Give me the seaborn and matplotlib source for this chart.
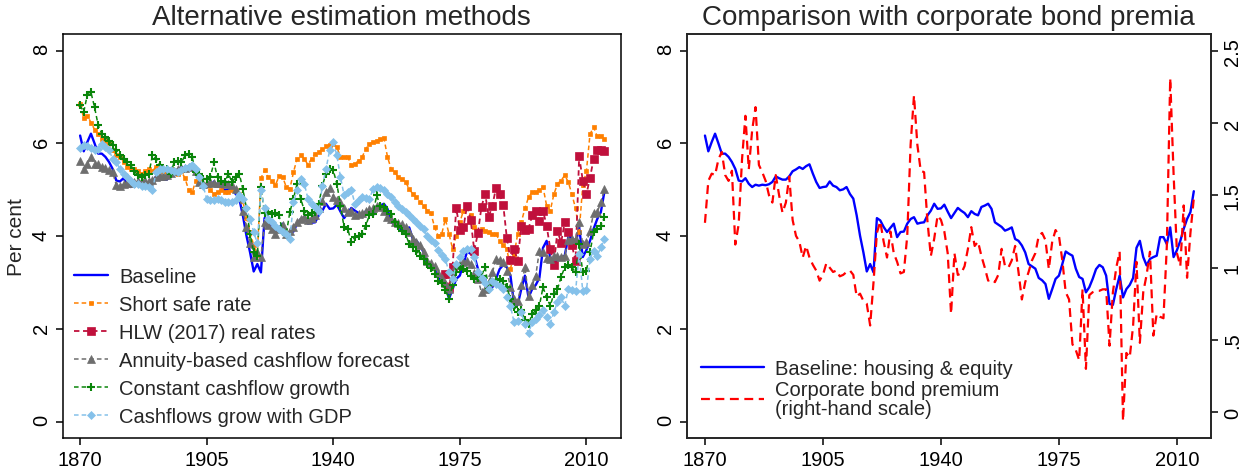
import numpy as np
import matplotlib
matplotlib.use('Agg')
import matplotlib.pyplot as plt
import seaborn as sns

years = np.arange(1870, 2016)

baseline = [6.17, 5.83, 6.03, 6.21, 6.00, 5.78, 5.78, 5.71, 5.60, 5.45,
            5.20, 5.18, 5.25, 5.13, 5.06, 5.11, 5.09, 5.11, 5.10, 5.12,
            5.17, 5.29, 5.25, 5.22, 5.22, 5.29, 5.40, 5.44, 5.49, 5.45,
            5.51, 5.55, 5.35, 5.17, 5.04, 5.06, 5.07, 5.18, 5.09, 5.06,
            4.99, 5.01, 5.06, 4.91, 4.81, 4.45, 4.01, 3.65, 3.24, 3.40,
            3.22, 4.39, 4.34, 4.20, 4.09, 4.18, 4.27, 3.98, 4.09, 4.10,
            4.27, 4.37, 4.41, 4.27, 4.29, 4.30, 4.45, 4.55, 4.70, 4.59,
            4.60, 4.68, 4.53, 4.39, 4.50, 4.61, 4.55, 4.50, 4.41, 4.54,
            4.48, 4.45, 4.63, 4.66, 4.70, 4.59, 4.30, 4.25, 4.20, 4.12,
            4.15, 4.19, 3.94, 3.90, 3.80, 3.65, 3.40, 3.35, 3.30, 3.10,
            3.05, 2.97, 2.65, 2.86, 3.08, 3.15, 3.40, 3.67, 3.62, 3.58,
            3.30, 3.12, 3.08, 2.79, 2.90, 3.08, 3.29, 3.38, 3.33, 3.15,
            2.54, 2.52, 2.86, 3.15, 2.68, 2.86, 2.95, 3.10, 3.75, 3.90,
            3.55, 3.37, 3.51, 3.55, 3.58, 3.98, 3.98, 3.83, 4.19, 3.55,
            3.70, 3.90, 4.16, 4.37, 4.52, 4.97]

short_safe = [6.85, 6.55, 6.60, 6.45, 6.30, 6.20, 6.10, 6.05, 6.00, 5.85,
              5.75, 5.70, 5.60, 5.50, 5.45, 5.45, 5.40, 5.35, 5.40, 5.45,
              5.40, 5.50, 5.45, 5.40, 5.40, 5.45, 5.40, 5.35, 5.40, 5.25,
              5.00, 4.95, 5.20, 5.25, 5.10, 5.10, 5.00, 4.90, 4.95, 5.00,
              4.95, 4.95, 5.00, 5.00, 4.90, 4.75, 4.40, 4.10, 3.80, 3.60,
              5.25, 5.42, 5.27, 5.20, 5.10, 5.29, 5.28, 5.06, 5.02, 5.38,
              5.67, 5.74, 5.67, 5.54, 5.67, 5.78, 5.81, 5.88, 5.94, 5.97,
              5.99, 5.92, 5.71, 5.71, 5.71, 5.53, 5.56, 5.63, 5.71, 5.88,
              5.99, 6.03, 6.06, 6.09, 6.12, 5.71, 5.45, 5.38, 5.27, 5.24,
              5.17, 5.02, 4.91, 4.84, 4.73, 4.66, 4.55, 4.50, 4.20, 4.01,
              4.05, 4.37, 4.05, 3.73, 4.00, 4.30, 4.55, 4.66, 4.45, 4.20,
              4.12, 4.15, 4.12, 4.08, 4.05, 4.05, 3.90, 3.80, 3.73, 3.30,
              3.60, 4.05, 4.30, 4.60, 4.84, 4.95, 4.95, 5.00, 5.06, 4.66,
              4.55, 4.90, 5.13, 5.20, 5.31, 5.17, 4.90, 4.60, 4.10, 5.10,
              5.40, 6.20, 6.35, 6.15, 6.15, 6.10]

hlw_years = np.arange(1971, 2016)
hlw = [3.19, 2.88, 3.33, 4.61, 4.14, 4.19, 4.66, 4.35, 3.69, 4.07,
       4.64, 4.91, 4.42, 4.66, 5.04, 4.91, 4.68, 3.96, 3.49, 3.73,
       3.47, 4.23, 4.14, 4.16, 4.45, 4.54, 4.33, 4.55, 4.23, 3.73,
       3.39, 4.12, 3.86, 4.30, 4.09, 3.80, 3.47, 5.72, 5.20, 4.90,
       5.26, 5.67, 5.85, 5.86, 5.83]

annuity = [5.63, 5.45, 5.55, 5.70, 5.55, 5.55, 5.50, 5.48, 5.42, 5.38,
           5.10, 5.08, 5.12, 5.15, 5.15, 5.16, 5.18, 5.20, 5.20, 5.19,
           5.22, 5.28, 5.30, 5.30, 5.33, 5.36, 5.40, 5.45, 5.48, 5.46,
           5.50, 5.52, 5.40, 5.17, 5.12, 5.14, 5.16, 5.15, 5.15, 5.15,
           5.14, 5.12, 5.10, 5.02, 4.85, 4.55, 4.20, 3.85, 3.55, 3.65,
           3.55, 4.30, 4.25, 4.15, 4.05, 4.15, 4.25, 4.05, 4.12, 4.20,
           4.30, 4.38, 4.42, 4.35, 4.40, 4.45, 4.60, 4.75, 4.95, 5.05,
           4.85, 4.78, 4.73, 4.60, 4.52, 4.55, 4.45, 4.48, 4.50, 4.55,
           4.58, 4.60, 4.66, 4.63, 4.55, 4.41, 4.37, 4.30, 4.28, 4.27,
           4.19, 4.09, 3.94, 3.88, 3.80, 3.65, 3.47, 3.42, 3.35, 3.20,
           3.10, 3.00, 2.86, 3.15, 3.37, 3.40, 3.44, 3.47, 3.40, 3.20,
           3.08, 2.79, 2.86, 3.01, 3.22, 3.51, 3.48, 3.44, 3.26, 2.90,
           2.65, 2.61, 2.94, 3.33, 2.72, 2.94, 3.15, 3.69, 3.65, 3.53,
           3.51, 3.58, 3.58, 3.56, 3.58, 3.91, 3.94, 3.94, 4.30, 3.83,
           3.87, 4.12, 4.50, 4.52, 4.73, 5.02]

const_growth = [6.82, 6.68, 7.05, 7.10, 6.78, 6.39, 6.21, 6.14, 6.06, 5.96,
                5.85, 5.75, 5.67, 5.60, 5.53, 5.40, 5.31, 5.28, 5.31, 5.35,
                5.74, 5.67, 5.53, 5.45, 5.45, 5.35, 5.59, 5.62, 5.59, 5.74,
                5.78, 5.70, 5.38, 5.35, 5.24, 5.24, 5.27, 5.59, 5.27, 5.20,
                5.16, 5.35, 5.16, 5.27, 5.35, 5.02, 4.60, 4.05, 3.65, 3.58,
                5.06, 4.50, 4.52, 4.48, 4.50, 4.45, 4.09, 4.05, 4.52, 4.81,
                5.13, 4.81, 4.55, 4.45, 4.50, 4.52, 4.70, 5.09, 5.35, 5.45,
                5.42, 5.13, 4.66, 4.19, 4.16, 3.87, 3.98, 4.01, 4.05, 4.23,
                4.45, 4.48, 4.88, 4.66, 4.63, 4.55, 4.48, 4.30, 4.23, 4.12,
                4.05, 3.83, 3.76, 3.69, 3.58, 3.50, 3.40, 3.32, 3.19, 3.04,
                3.00, 2.85, 2.65, 2.94, 3.22, 3.33, 3.30, 3.25, 3.15, 3.08,
                3.10, 3.15, 3.33, 2.86, 3.01, 3.05, 3.08, 3.04, 2.90, 2.65,
                2.47, 2.36, 2.40, 2.20, 2.11, 2.32, 2.40, 2.50, 2.90, 2.68,
                2.50, 2.76, 2.86, 3.12, 3.33, 3.37, 3.33, 3.22, 3.83, 3.22,
                3.26, 3.65, 4.09, 4.16, 4.23, 4.41]

gdp_growth = [5.90, 5.96, 5.95, 5.90, 5.85, 5.88, 5.99, 5.92, 5.85, 5.67,
              5.60, 5.45, 5.35, 5.27, 5.20, 5.13, 5.12, 5.09, 5.08, 5.06,
              4.99, 5.38, 5.45, 5.45, 5.44, 5.42, 5.40, 5.38, 5.43, 5.47,
              5.49, 5.54, 5.45, 5.27, 5.09, 4.81, 4.77, 4.79, 4.81, 4.77,
              4.73, 4.73, 4.73, 4.77, 4.88, 4.81, 4.60, 4.37, 4.09, 3.85,
              4.99, 4.60, 4.37, 4.30, 4.23, 4.16, 4.10, 4.05, 3.94, 4.73,
              4.99, 5.24, 5.13, 4.81, 4.70, 4.63, 4.55, 5.09, 5.45, 5.85,
              6.03, 5.74, 5.27, 4.88, 4.95, 4.99, 4.70, 4.78, 4.84, 4.82,
              4.80, 5.02, 5.06, 5.03, 4.99, 4.91, 4.85, 4.73, 4.66, 4.59,
              4.52, 4.45, 4.37, 4.30, 4.23, 4.16, 4.00, 3.92, 3.85, 3.70,
              3.60, 3.51, 3.22, 3.08, 3.40, 3.55, 3.69, 3.73, 3.72, 3.55,
              3.22, 3.10, 3.00, 2.86, 3.04, 2.97, 2.92, 2.86, 2.70, 2.50,
              2.14, 2.18, 2.36, 2.10, 1.91, 2.14, 2.22, 2.30, 2.40, 2.25,
              2.11, 2.36, 2.58, 2.68, 2.50, 2.86, 2.83, 2.81, 3.62, 2.81,
              2.83, 3.51, 3.69, 3.58, 3.76, 3.94]

bond_premium = [1.31, 1.60, 1.65, 1.64, 1.75, 1.80, 1.64, 1.60, 1.67, 1.16,
                1.30, 1.75, 2.05, 1.68, 1.95, 2.11, 1.71, 1.66, 1.60, 1.50,
                1.45, 1.64, 1.50, 1.38, 1.45, 1.63, 1.33, 1.22, 1.18, 1.07,
                1.15, 1.07, 1.02, 0.98, 0.91, 0.95, 1.03, 1.00, 0.97, 0.98,
                0.94, 0.95, 0.97, 0.98, 0.95, 0.80, 0.82, 0.77, 0.75, 0.60,
                0.90, 1.24, 1.32, 1.18, 1.07, 1.25, 1.10, 1.04, 0.96, 0.97,
                1.22, 1.85, 2.19, 1.85, 1.67, 1.66, 1.32, 1.08, 1.20, 1.36,
                1.33, 1.25, 1.10, 0.68, 1.10, 0.95, 0.96, 1.01, 1.13, 1.28,
                1.15, 1.18, 1.08, 1.00, 0.91, 0.92, 0.90, 0.95, 1.13, 1.01,
                1.00, 1.05, 1.15, 0.97, 0.78, 0.90, 0.97, 1.05, 1.10, 1.22,
                1.24, 1.19, 0.99, 1.18, 1.26, 1.22, 1.05, 0.83, 0.78, 0.47,
                0.43, 0.36, 0.85, 0.30, 0.81, 0.83, 0.84, 0.84, 0.85, 0.85,
                0.46, 0.83, 1.00, 1.11, -0.06, 0.41, 0.38, 0.60, 1.04, 0.48,
                0.83, 0.95, 1.11, 0.53, 0.68, 0.66, 0.65, 1.15, 2.31, 1.65,
                1.10, 1.01, 1.43, 0.93, 1.24, 1.48]

xticks = [1870, 1905, 1940, 1975, 2010]
yticks = [0, 2, 4, 6, 8]
rticks = [0, 0.5, 1, 1.5, 2, 2.5]
rtick_labels = ['0', '.5', '1', '1.5', '2', '2.5']

sns.set_style('ticks')
plt.rcParams['font.family'] = ['Liberation Sans', 'DejaVu Sans']
plt.rcParams['axes.linewidth'] = 1.1

fig = plt.figure(figsize=(12.5, 4.77), dpi=100)
ax1 = fig.add_axes([0.0502, 0.0797, 0.4464, 0.8470])
ax2 = fig.add_axes([0.5494, 0.0797, 0.4194, 0.8470])

dash = (0, (3, 2))

# left panel
sns.lineplot(x=years, y=baseline, ax=ax1, color='#0000FF', lw=1.7,
             label='Baseline')
sns.lineplot(x=years, y=short_safe, ax=ax1, color='#FF8000', lw=1.1,
             linestyle=dash, marker='s', markersize=2.5,
             markeredgecolor='#FF8000', markeredgewidth=0.5,
             label='Short safe rate')
sns.lineplot(x=hlw_years, y=hlw, ax=ax1, color='#C0103C', lw=1.3,
             linestyle=dash, marker='s', markersize=6,
             markeredgecolor='#C0103C', markeredgewidth=0.5,
             label='HLW (2017) real rates')
sns.lineplot(x=years, y=annuity, ax=ax1, color='#6E6E6E', lw=1.1,
             linestyle=dash, marker='^', markersize=6,
             markeredgecolor='#6E6E6E', markeredgewidth=0.5,
             label='Annuity-based cashflow forecast')
sns.lineplot(x=years, y=const_growth, ax=ax1, color='#0A850A', lw=1.1,
             linestyle=dash, marker='+', markersize=6,
             markeredgecolor='#0A850A', markeredgewidth=1.5,
             label='Constant cashflow growth')
sns.lineplot(x=years, y=gdp_growth, ax=ax1, color='#85C1EA', lw=1.1,
             linestyle=dash, marker='D', markersize=4.5,
             markeredgecolor='#85C1EA', markeredgewidth=0.5,
             label='Cashflows grow with GDP')

ax1.set_title('Alternative estimation methods', fontsize=20, pad=7)
ax1.set_ylabel('Per cent', fontsize=15)
ax1.set_xlabel('')
ax1.legend(loc='lower left', bbox_to_anchor=(0.02, 0.03), frameon=False,
           fontsize=14.5, handlelength=1.7, handletextpad=0.55,
           labelspacing=0.45, borderpad=0, borderaxespad=0)

# right panel
sns.lineplot(x=years, y=baseline, ax=ax2, color='#0000FF', lw=1.7,
             label='Baseline: housing & equity', legend=False)
ax2r = ax2.twinx()
sns.lineplot(x=years, y=bond_premium, ax=ax2r, color='#FF0000', lw=1.6,
             linestyle=(0, (4, 2.5)),
             label='Corporate bond premium\n(right-hand scale)', legend=False)
ax2.set_title('Comparison with corporate bond premia', fontsize=20, pad=7)
ax2.set_xlabel('')
ax2.set_ylabel('')
ax2r.set_ylabel('')
ax2r.set_ylim(-0.178, 2.616)
ax2r.set_yticks(rticks)
ax2r.set_yticklabels(rtick_labels)

h1, l1 = ax2.get_legend_handles_labels()
h2, l2 = ax2r.get_legend_handles_labels()
leg = ax2r.legend(h1 + h2, l1 + l2, loc='lower left',
                  bbox_to_anchor=(0.028, 0.05), frameon=False,
                  fontsize=14.5, handlelength=3.1, handletextpad=0.55,
                  labelspacing=0.1, borderpad=0, borderaxespad=0)
for t in leg.get_texts():
    t.set_linespacing(1.0)

for ax, xl in ((ax1, (1865.2, 2019.5)), (ax2, (1864.6, 2020.1))):
    ax.set_xlim(*xl)
    ax.set_ylim(-0.35, 8.36)
    ax.set_xticks(xticks)
    ax.set_yticks(yticks)
    ax.tick_params(direction='out', length=5, width=1.1, labelsize=14.5,
                   colors='black')
    ax.tick_params(axis='y', labelrotation=90)
    for s in ax.spines.values():
        s.set_color('black')
        s.set_linewidth(1.1)

ax2r.tick_params(direction='out', length=5, width=1.1, labelsize=14.5,
                 labelrotation=90, colors='black')
for lab in ax2r.get_yticklabels():
    lab.set_va('center')

fig.savefig('out.png', dpi=100)
